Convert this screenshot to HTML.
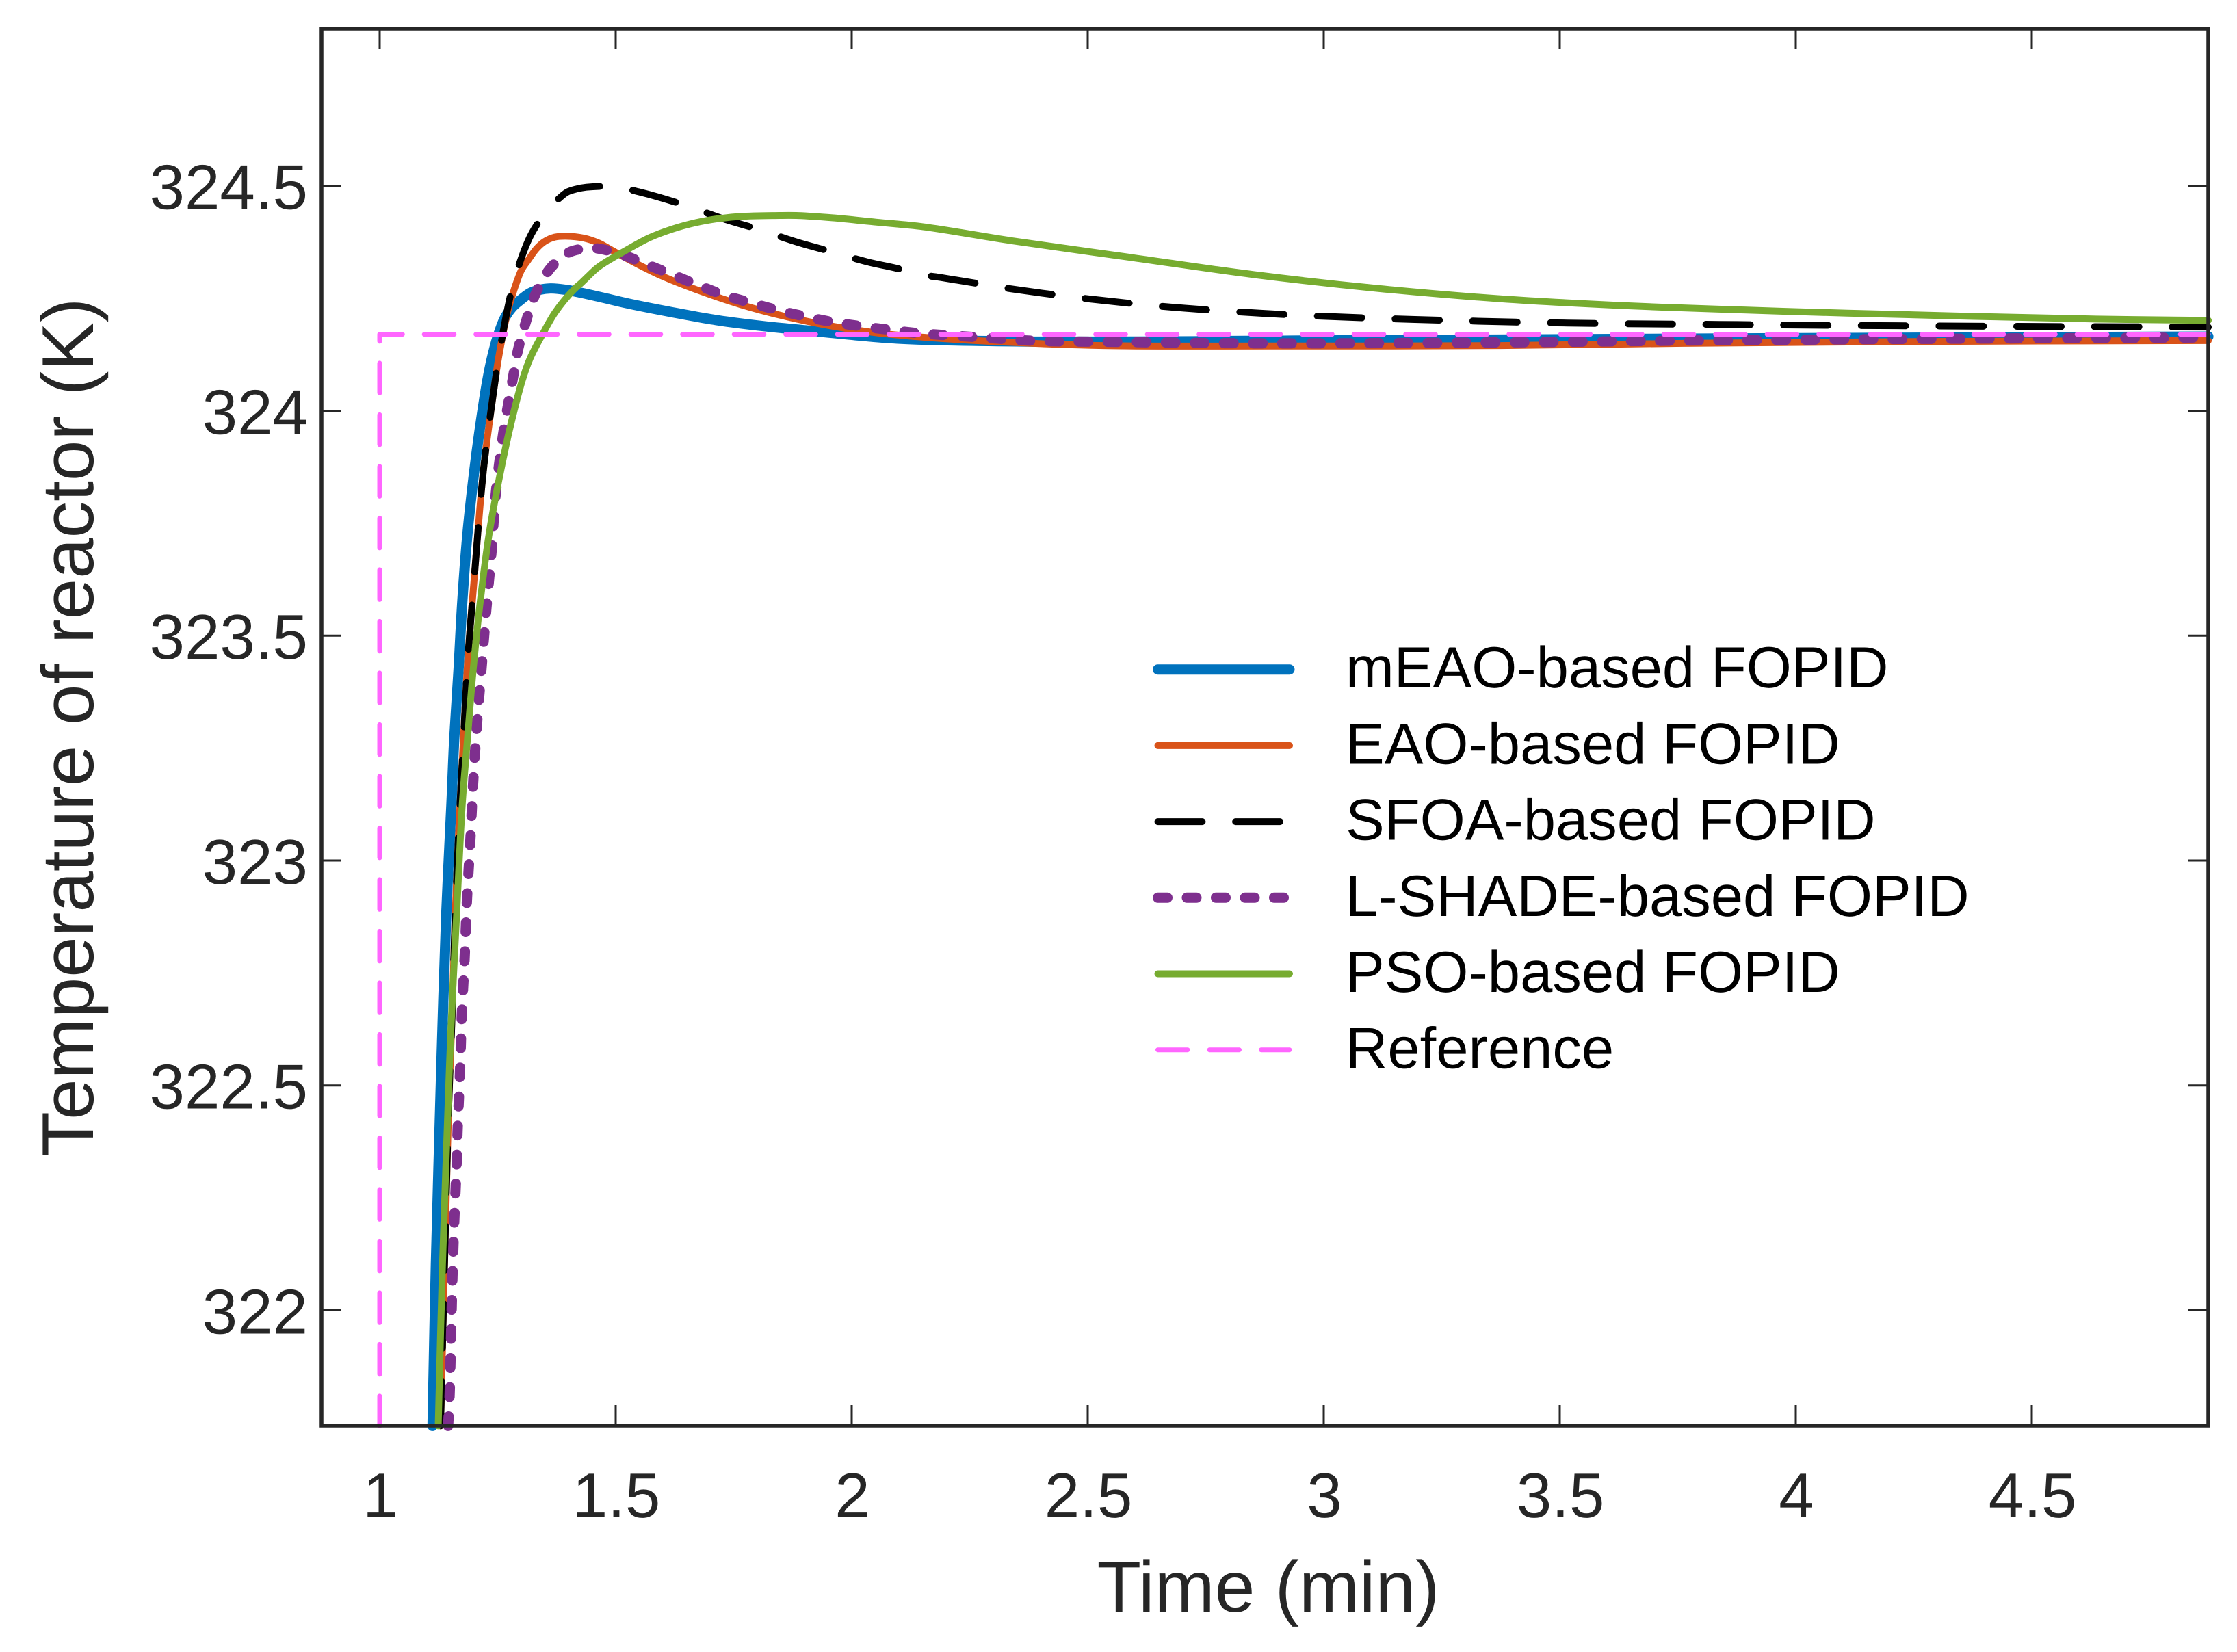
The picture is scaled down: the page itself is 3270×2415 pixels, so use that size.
<!DOCTYPE html>
<html lang="en">
<head>
<meta charset="utf-8">
<title>Temperature of reactor step response</title>
<style>
html,body{margin:0;padding:0;background:#fff;}
svg{display:block;}
text{font-family:"Liberation Sans",Arial,sans-serif;text-rendering:geometricPrecision;}
</style>
</head>
<body>
<svg id="chart" xmlns="http://www.w3.org/2000/svg" width="3270" height="2415" viewBox="0 0 3270 2415">
  <rect x="0" y="0" width="3270" height="2415" fill="#ffffff"/>
  <g id="ticks"></g>
  <g id="series"></g>
  <rect x="470" y="42" width="2758" height="2042" fill="none" stroke="#262626" stroke-width="5.5"/>
  <g id="tick-labels"></g>
  <text x="1854" y="2356" font-size="105.7" fill="#262626" text-anchor="middle">Time (min)</text>
  <text transform="translate(136 1063) rotate(-90)" font-size="107" fill="#262626" text-anchor="middle">Temperature of reactor (K)</text>
  <g id="legend"></g>
</svg>
<script>
const xTicks = [1, 1.5, 2, 2.5, 3, 3.5, 4, 4.5];
const xTickLabels = ['1', '1.5', '2', '2.5', '3', '3.5', '4', '4.5'];
const yTicks = [322, 322.5, 323, 323.5, 324, 324.5];
const yTickLabels = ['322', '322.5', '323', '323.5', '324', '324.5'];

const meaoTime = [1.112,1.119,1.126,1.133,1.141,1.152,1.158,1.167,1.175,1.186,1.201,1.213,1.228,1.238,1.251,1.265,1.280,1.298,1.319,1.339,1.362,1.394,1.428,1.471,1.524,1.620,1.717,1.814,1.910,2.007,2.104,2.370,3.094,4.109,4.874];
const meaoTemp = [321.743,322.100,322.373,322.627,322.880,323.126,323.271,323.423,323.575,323.727,323.871,323.966,324.067,324.118,324.168,324.206,324.229,324.246,324.262,324.269,324.272,324.269,324.262,324.252,324.239,324.219,324.201,324.188,324.178,324.168,324.160,324.154,324.157,324.162,324.165];

const eaoTime = [1.129,1.138,1.146,1.153,1.160,1.167,1.178,1.187,1.200,1.213,1.221,1.231,1.244,1.252,1.271,1.285,1.301,1.314,1.332,1.349,1.371,1.394,1.432,1.464,1.490,1.519,1.548,1.597,1.669,1.765,1.862,1.959,2.055,2.158,2.339,2.532,2.888,3.374,3.761,4.254,4.874];
const eaoTemp = [321.743,322.130,322.449,322.647,322.880,323.058,323.281,323.453,323.624,323.793,323.879,323.963,324.062,324.118,324.219,324.270,324.314,324.334,324.360,324.376,324.386,324.388,324.384,324.373,324.358,324.341,324.325,324.300,324.270,324.236,324.209,324.188,324.173,324.163,324.152,324.145,324.144,324.145,324.150,324.154,324.156];

const sfoaTime = [1.129,1.138,1.146,1.153,1.160,1.167,1.178,1.187,1.200,1.213,1.221,1.231,1.244,1.254,1.272,1.287,1.321,1.358,1.380,1.397,1.417,1.438,1.500,1.548,1.591,1.649,1.736,1.797,1.884,1.945,2.033,2.094,2.152,2.190,2.345,2.500,2.659,2.817,2.977,3.193,3.516,3.839,4.214,4.874];
const sfoaTemp = [321.743,322.130,322.449,322.647,322.880,323.058,323.281,323.453,323.624,323.793,323.879,323.963,324.062,324.130,324.232,324.297,324.392,324.449,324.472,324.486,324.493,324.497,324.498,324.487,324.475,324.456,324.424,324.405,324.375,324.357,324.331,324.317,324.302,324.296,324.270,324.249,324.232,324.220,324.211,324.203,324.195,324.192,324.189,324.186];

const lshadeTime = [1.145,1.148,1.151,1.154,1.158,1.163,1.165,1.170,1.174,1.180,1.185,1.192,1.198,1.206,1.216,1.226,1.237,1.246,1.261,1.271,1.282,1.293,1.309,1.329,1.358,1.381,1.403,1.430,1.460,1.516,1.571,1.626,1.680,1.733,1.790,1.846,1.904,1.961,2.019,2.080,2.136,2.274,2.377,2.571,2.856,3.374,3.761,4.138,4.874];
const lshadeTemp = [321.743,321.808,321.935,322.068,322.197,322.326,322.399,322.528,322.658,322.785,322.915,323.044,323.173,323.301,323.430,323.559,323.687,323.816,323.944,324.007,324.071,324.135,324.195,324.257,324.312,324.337,324.353,324.360,324.361,324.346,324.323,324.300,324.277,324.256,324.239,324.223,324.209,324.197,324.188,324.180,324.173,324.163,324.156,324.153,324.150,324.152,324.156,324.159,324.163];

const psoTime = [1.124,1.133,1.142,1.151,1.163,1.175,1.186,1.198,1.213,1.232,1.256,1.277,1.302,1.319,1.344,1.372,1.411,1.428,1.459,1.475,1.524,1.572,1.620,1.669,1.717,1.765,1.838,1.887,1.959,2.055,2.152,2.339,2.597,2.857,3.114,3.374,3.632,3.891,4.109,4.636,4.874];
const psoTemp = [321.743,322.100,322.373,322.627,322.880,323.126,323.271,323.423,323.575,323.727,323.864,323.966,324.067,324.117,324.168,324.219,324.269,324.285,324.316,324.328,324.358,324.385,324.404,324.418,324.427,324.432,324.434,324.434,324.429,324.419,324.409,324.378,324.340,324.302,324.272,324.249,324.234,324.224,324.217,324.204,324.201];

const refTime = [1, 1, 4.874];
const refTemp = [321.743, 324.17, 324.17];

const legendLabels = ['mEAO-based FOPID', 'EAO-based FOPID', 'SFOA-based FOPID', 'L-SHADE-based FOPID', 'PSO-based FOPID', 'Reference'];

const NS = 'http://www.w3.org/2000/svg';
function xScale(t) { return 555 + (t - 1) * 690; }
function yScale(v) { return 271.7 + (324.5 - v) * 657.5; }

function make(parent, tag, attrs) {
  const el = document.createElementNS(NS, tag);
  for (const k in attrs) el.setAttribute(k, attrs[k]);
  parent.appendChild(el);
  return el;
}

function smoothPath(times, temps) {
  const p = times.map((t, i) => [xScale(t), yScale(temps[i])]);
  let d = 'M' + p[0][0].toFixed(2) + ' ' + p[0][1].toFixed(2);
  const dist = (a, b) => Math.sqrt(Math.hypot(a[0] - b[0], a[1] - b[1]));
  for (let i = 0; i < p.length - 1; i++) {
    const p0 = p[Math.max(i - 1, 0)], p1 = p[i], p2 = p[i + 1], p3 = p[Math.min(i + 2, p.length - 1)];
    const d1 = dist(p0, p1), d2 = dist(p1, p2), d3 = dist(p2, p3);
    const c1 = [0, 1].map(k => d1 > 0
      ? (d1 * d1 * p2[k] - d2 * d2 * p0[k] + (2 * d1 * d1 + 3 * d1 * d2 + d2 * d2) * p1[k]) / (3 * d1 * (d1 + d2))
      : p1[k]);
    const c2 = [0, 1].map(k => d3 > 0
      ? (d3 * d3 * p1[k] - d2 * d2 * p3[k] + (2 * d3 * d3 + 3 * d3 * d2 + d2 * d2) * p2[k]) / (3 * d3 * (d3 + d2))
      : p2[k]);
    d += 'C' + c1[0].toFixed(2) + ' ' + c1[1].toFixed(2) + ' ' + c2[0].toFixed(2) + ' ' + c2[1].toFixed(2) + ' ' + p2[0].toFixed(2) + ' ' + p2[1].toFixed(2);
  }
  return d;
}

function straightPath(times, temps) {
  return times.map((t, i) => (i ? 'L' : 'M') + xScale(t).toFixed(2) + ' ' + yScale(temps[i]).toFixed(2)).join('');
}

const seriesLayer = document.getElementById('series');
const styleMeao = { stroke: '#0072BD', 'stroke-width': 15 };
const styleEao = { stroke: '#D95319', 'stroke-width': 10 };
const styleSfoa = { stroke: '#000000', 'stroke-width': 10, 'stroke-dasharray': '65 48.6' };
const styleLshade = { stroke: '#7E2F8E', 'stroke-width': 15, 'stroke-dasharray': '14 28.5' };
const stylePso = { stroke: '#77AC30', 'stroke-width': 10 };
const styleRef = { stroke: '#FF66FF', 'stroke-width': 7, 'stroke-dasharray': '43.5 32' };

function addSeries(d, style) {
  return make(seriesLayer, 'path', Object.assign({ d: d, fill: 'none', 'stroke-linecap': 'round', 'stroke-linejoin': 'round' }, style));
}

const lineMeao = addSeries(smoothPath(meaoTime, meaoTemp), styleMeao);


const lineEao = addSeries(smoothPath(eaoTime, eaoTemp), styleEao);


const lineSfoa = addSeries(smoothPath(sfoaTime, sfoaTemp), styleSfoa);


const lineLshade = addSeries(smoothPath(lshadeTime, lshadeTemp), styleLshade);


const linePso = addSeries(smoothPath(psoTime, psoTemp), stylePso);


const lineRef = addSeries(straightPath(refTime, refTemp), styleRef);



const tickLayer = document.getElementById('ticks');
const labelLayer = document.getElementById('tick-labels');
const tickStyle = { stroke: '#262626', 'stroke-width': 3 };

xTicks.forEach((t, i) => {
  const x = xScale(t);
  const bottomTick = make(tickLayer, 'line', Object.assign({ x1: x, x2: x, y1: 2084, y2: 2054 }, tickStyle));
  
  
  const topTick = make(tickLayer, 'line', Object.assign({ x1: x, x2: x, y1: 42, y2: 72 }, tickStyle));
  
  
  const label = make(labelLayer, 'text', { x: x + 1, y: 2218, 'font-size': 92.5, fill: '#262626', 'text-anchor': 'middle' });
  label.textContent = xTickLabels[i];
  
  
});

yTicks.forEach((v, i) => {
  const y = yScale(v);
  const leftTick = make(tickLayer, 'line', Object.assign({ x1: 470, x2: 499, y1: y, y2: y }, tickStyle));
  
  
  const rightTick = make(tickLayer, 'line', Object.assign({ x1: 3228, x2: 3199, y1: y, y2: y }, tickStyle));
  
  
  const label = make(labelLayer, 'text', { x: 450, y: y + 34, 'font-size': 92.5, fill: '#262626', 'text-anchor': 'end' });
  label.textContent = yTickLabels[i];
  
  
});

const legendLayer = document.getElementById('legend');
const legendStyles = [styleMeao, styleEao, styleSfoa, styleLshade, stylePso, styleRef];
legendLabels.forEach((name, i) => {
  const baseline = 1005 + i * 111.3;
  const sampleY = 978.7 + i * 111.2;
  const sample = make(legendLayer, 'line', Object.assign({ x1: 1692.5, x2: 1885, y1: sampleY, y2: sampleY, 'stroke-linecap': 'round' }, legendStyles[i]));
  
  
  const text = make(legendLayer, 'text', { x: 1967, y: baseline, 'font-size': 85, fill: '#000000' });
  text.textContent = name;
  
  
});
</script>
</body>
</html>
